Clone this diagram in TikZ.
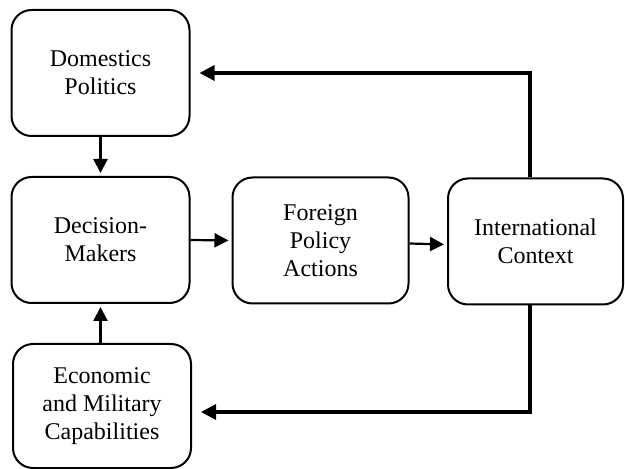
\documentclass[tikz,border=0pt]{standalone}
\usepackage{fontspec}
\setmainfont{Liberation Serif}
\usetikzlibrary{arrows.meta}

\begin{document}
\begin{tikzpicture}[x=0.5pt,y=-0.5pt]
        \tikzset{every node/.style={inner sep=0pt, font=\fontsize{12}{14}\selectfont}}
        \tikzset{factor/.style={draw=black, line width=1pt, rounded corners=10pt, align=center, minimum width=89pt, minimum height=63pt}}
        \tikzset{link/.style={line width=1.1pt, -{Triangle[length=7pt,width=7pt]}, shorten >=1.5pt}}
        \tikzset{feedback/.style={line width=1.6pt, -{Triangle[length=7.5pt,width=7.5pt]}, shorten >=4.5pt}}
        \useasboundingbox (0,0) rectangle (625,469);
        \node[factor] (dp) at (100.5,73) {Domestics\\Politics};
        \node[factor] (dm) at (100.5,240) {Decision-\\Makers};
        \node[factor, minimum width=88pt] (fpa) at (320.5,240.5) {Foreign\\Policy\\Actions};
        \node[factor, minimum width=87.5pt] (ic) at (535.5,241.5) {International\\Context};
        \node[factor, minimum width=89pt, minimum height=62pt] (emc) at (102,406) {Economic\\and Military\\Capabilities};
        \draw[link] (dp.south) -- (dm.north);
        \draw[link] (emc.north -| dm.south) -- (dm.south);
        \draw[link] (dm.east) -- (fpa.west);
        \draw[link] ([yshift=-1.5pt]fpa.east) -- ([yshift=-1.5pt]ic.west);
        \draw[feedback] ([xshift=-2.75pt]ic.north) |- (dp.east);
        \draw[feedback] ([xshift=-2.75pt]ic.south) |- ([yshift=-3pt]emc.east);
\end{tikzpicture}
\end{document}
